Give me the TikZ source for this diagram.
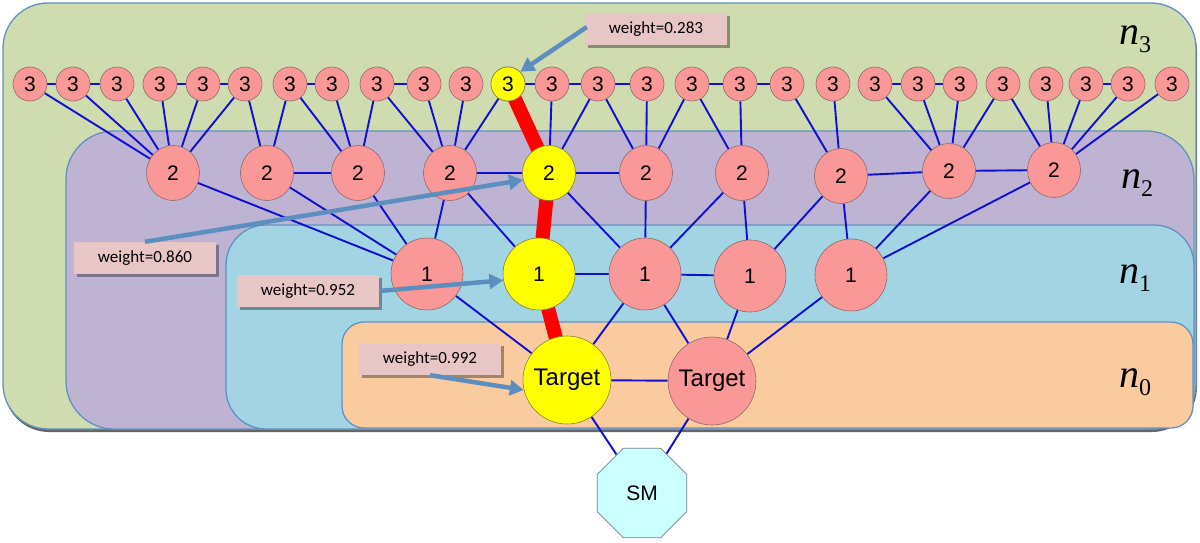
\documentclass[tikz,border=0pt]{standalone}
\usepackage{fontspec}
\setmainfont{Liberation Sans}
\newfontfamily\calib{Carlito}
\newfontfamily\tnr{Liberation Serif}
\usetikzlibrary{shapes.geometric,arrows.meta,shadows}
\pgfdeclarelayer{bg}
\pgfdeclarelayer{edges}
\pgfsetlayers{bg,edges,main}
\definecolor{bggreen}{RGB}{207,220,175}
\definecolor{bgpurple}{RGB}{191,179,212}
\definecolor{bgblue}{RGB}{163,212,227}
\definecolor{bgorange}{RGB}{251,203,160}
\definecolor{boxline}{RGB}{98,145,192}
\definecolor{pinknode}{RGB}{250,151,151}
\definecolor{pinkline}{RGB}{140,105,105}
\definecolor{yelnode}{RGB}{255,255,0}
\definecolor{yelline}{RGB}{130,130,50}
\definecolor{edgeblue}{RGB}{15,15,210}
\definecolor{redpath}{RGB}{255,0,0}
\definecolor{labfill}{RGB}{233,198,198}
\definecolor{arrowc}{RGB}{92,142,192}
\definecolor{smfill}{RGB}{204,255,255}
\definecolor{smline}{RGB}{110,130,140}
\begin{document}
\begin{tikzpicture}[x=1pt,y=-1pt,
  region/.style={draw=boxline,line width=1.3pt},
  pk/.style={fill=pinknode,draw=pinkline,line width=0.6pt,inner sep=0pt},
  yl/.style={fill=yelnode,draw=yelline},
  lthree/.style={pk,circle,minimum size=34pt,font=\fontsize{21}{21}\selectfont},
  ltwo/.style={pk,ellipse,minimum width=53pt,minimum height=55pt,font=\fontsize{21}{21}\selectfont},
  lone/.style={pk,circle,minimum size=72pt,font=\fontsize{21}{21}\selectfont},
  ltarget/.style={pk,circle,minimum size=88pt,font=\fontsize{24}{24}\selectfont},
  smnode/.style={regular polygon,regular polygon sides=8,minimum size=97pt,inner sep=0pt,fill=smfill,draw=smline,line width=0.8pt,font=\fontsize{21}{21}\selectfont},
  edge/.style={draw=edgeblue,line width=1.9pt},
  hot/.style={draw=redpath,line width=14pt,line join=round},
  wbox/.style={fill=labfill,minimum width=142pt,minimum height=32pt,inner sep=0pt,font=\calib\fontsize{17}{17}\selectfont,drop shadow={shadow xshift=3pt,shadow yshift=-3pt,fill=black,opacity=0.35}},
  warrow/.style={draw=arrowc,line width=4.5pt,-{Triangle[width=15pt,length=14pt]}},
  nlab/.style={anchor=base west,inner sep=0pt}
]
\useasboundingbox (0,0) rectangle (1200,543);
\begin{pgfonlayer}{bg}
  \fill[white] (0,0) rectangle (1200,543);
  \draw[region,fill=bggreen,rounded corners=45pt,drop shadow={shadow xshift=1pt,shadow yshift=-3pt,fill=black,opacity=0.6}] (3,3) rectangle (1196,429);
  \draw[region,fill=bgpurple,rounded corners=48pt] (66,131) rectangle (1194,429);
  \draw[region,fill=bgblue,rounded corners=40pt] (226,225) rectangle (1194,429);
  \draw[region,fill=bgorange,rounded corners=22pt] (342,322) rectangle (1193,428);
\end{pgfonlayer}

% level 3
\foreach \x [count=\i] in {30,73,117,160,203,245,290,332,377,424,466,508,552,598,647,692,740,787,833,875,918,960,1003,1046,1086,1128,1172}
  \node[lthree] (t\i) at (\x,84) {3};
\node[lthree,yl] (t12) at (508,84) {3};

% level 2
\node[ltwo] (s1) at (173,173) {2};
\node[ltwo] (s2) at (267,173) {2};
\node[ltwo] (s3) at (358,173) {2};
\node[ltwo] (s4) at (450,173) {2};
\node[ltwo,yl] (s5) at (549,173) {2};
\node[ltwo] (s6) at (646,173) {2};
\node[ltwo] (s7) at (742,173) {2};
\node[ltwo] (s8) at (841,176) {2};
\node[ltwo] (s9) at (949,171) {2};
\node[ltwo] (s10) at (1054,170) {2};

% level 1
\node[lone] (o1) at (427,274) {1};
\node[lone,yl] (o2) at (539,274) {1};
\node[lone] (o3) at (645,274) {1};
\node[lone] (o4) at (750,276) {1};
\node[lone] (o5) at (851,275) {1};

% level 0
\node[ltarget,yl] (T1) at (567,380) {Target};
\node[ltarget] (T2) at (712,381) {Target};
\node[smnode] (SM) at (642,493) {SM};

\begin{pgfonlayer}{edges}
  \foreach \a/\b in {t1/t2,t2/t3,t4/t5,t5/t6,t7/t8,t9/t10,t12/t13,t13/t14,t14/t15,t16/t17,t17/t18,t20/t21,t21/t22,t25/t26,
    t1/s1,t2/s1,t3/s1,t4/s1,t5/s1,t6/s1,t6/s2,t7/s2,t7/s3,t8/s3,t9/s3,t9/s4,t10/s4,t11/s4,t12/s4,
    t13/s5,t14/s5,t14/s6,t15/s6,t16/s6,t16/s7,t17/s7,t18/s8,t19/s8,t20/s9,t21/s9,t22/s9,t23/s9,
    t23/s10,t24/s10,t25/s10,t26/s10,t27/s10,
    s2/s3,s4/s5,s5/s6,s8/s9,s9/s10,
    s1/o1,s2/o1,s3/o1,s4/o1,s4/o2,s5/o3,s6/o3,s7/o3,s7/o4,s8/o4,s8/o5,s9/o5,s10/o5,
    o2/o3,o3/o4,
    o1/T1,o3/T1,o3/T2,o4/T2,o5/T2,T1/T2,T1/SM,T2/SM}
    \draw[edge] (\a) -- (\b);
  \draw[hot] (t12.center) -- (s5.center) -- (o2.center) -- (T1.center);
\end{pgfonlayer}

% level labels
\node[nlab] (n3) at (1119,45) {{\tnr\itshape\fontsize{40}{40}\selectfont n}{\tnr\fontsize{24}{24}\selectfont\raisebox{-8pt}{3}}};
\node[nlab] (n2) at (1121,188) {{\tnr\itshape\fontsize{40}{40}\selectfont n}{\tnr\fontsize{24}{24}\selectfont\raisebox{-8pt}{2}}};
\node[nlab] (n1) at (1119,283) {{\tnr\itshape\fontsize{40}{40}\selectfont n}{\tnr\fontsize{24}{24}\selectfont\raisebox{-8pt}{1}}};
\node[nlab] (n0) at (1119,387) {{\tnr\itshape\fontsize{40}{40}\selectfont n}{\tnr\fontsize{24}{24}\selectfont\raisebox{-8pt}{0}}};

% weight labels and arrows
\node[wbox] (w283) at (656,29) {weight=0.283};
\node[wbox] (w860) at (145,258) {weight=0.860};
\node[wbox] (w952) at (308,291) {weight=0.952};
\node[wbox] (w992) at (430,359) {weight=0.992};
\draw[warrow] (w283.west) ++(2,-2) coordinate (a283) (a283) -- (t12.45);
\draw[warrow] (w860.north) -- (s5.195);
\draw[warrow] (w952.east) -- (o2.190);
\draw[warrow] (w992.south) -- (T1.193);
\end{tikzpicture}
\end{document}
